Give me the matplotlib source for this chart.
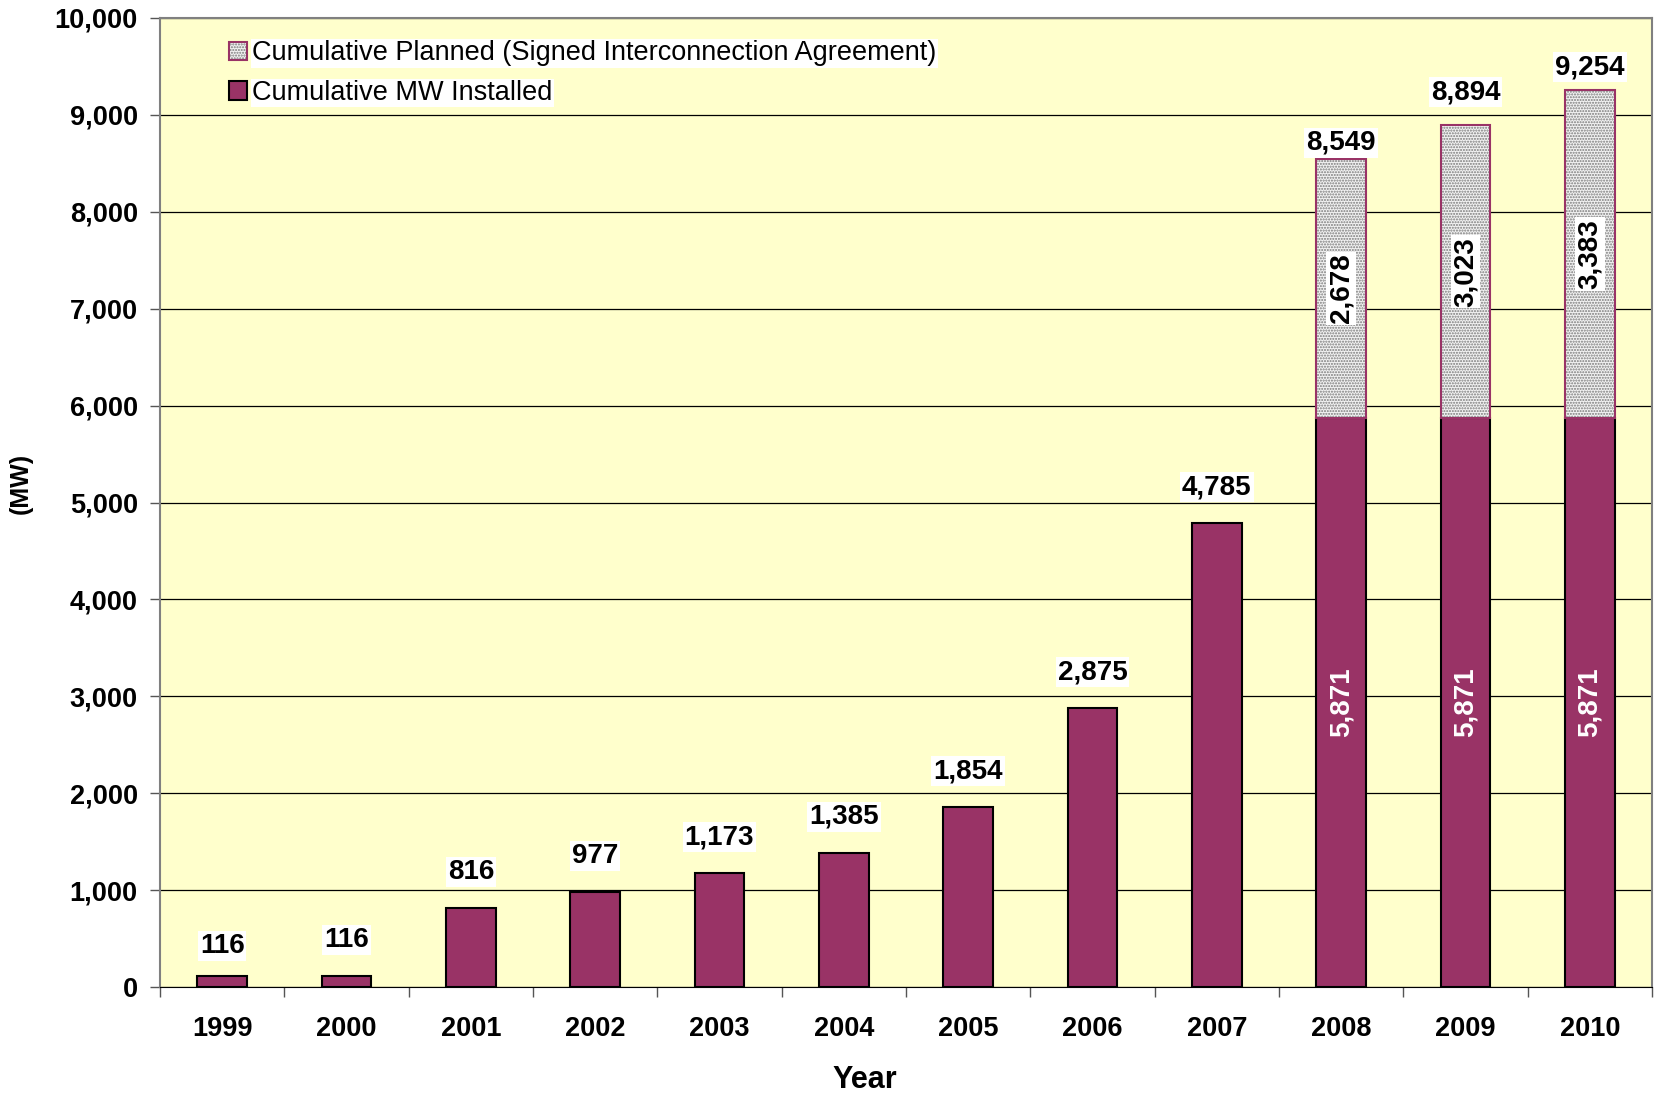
import matplotlib.pyplot as plt
import numpy as np

# values
years = ["1999", "2000", "2001", "2002", "2003", "2004",
         "2005", "2006", "2007", "2008", "2009", "2010"]
installed = [116, 116, 816, 977, 1173, 1385, 1854, 2875, 4785, 5871, 5871, 5871]
planned = [0, 0, 0, 0, 0, 0, 0, 0, 0, 2678, 3023, 3383]

plt.rcParams['font.family'] = ['Liberation Sans', 'DejaVu Sans']
plt.rcParams['hatch.linewidth'] = 1.0

maroon = "#993366"
W, H = 1656, 1094

fig = plt.figure(figsize=(W / 100, H / 100), dpi=100)
ax = fig.add_axes([160 / W, 1 - 987 / H, (1652 - 160) / W, (987 - 18) / H])
ax.set_facecolor("#FFFFCC")

x = np.arange(len(years))
inst = np.array(installed)
plan = np.array(planned)
total = inst + plan
has_plan = plan > 0

ax.bar(x, inst, width=0.4, color=maroon, edgecolor="black", linewidth=1.5, zorder=3,
       label="Cumulative MW Installed")
hb = ax.bar(x[has_plan], plan[has_plan], bottom=inst[has_plan], width=0.4,
            color="#f2f2f2", edgecolor="#7a7a7a", hatch="......", linewidth=0, zorder=3)
ob = ax.bar(x[has_plan], plan[has_plan], bottom=inst[has_plan], width=0.4,
            fill=False, edgecolor=maroon, linewidth=1.5, zorder=4)

# total labels above the bars (offsets in pixels, as placed in the original)
offsets = [30, 36, 36, 36, 36, 36, 36, 36, 36, 16, 33, 23]
for xi, t, off in zip(x, total, offsets):
    ax.annotate(f"{t:,}", (xi, t), xytext=(0, off * 0.72), textcoords="offset points",
                ha="center", va="center", fontsize=20, fontweight="bold", zorder=6,
                bbox=dict(facecolor="white", edgecolor="none", pad=1.5))

# values inside the stacked bars
for xi, a, b in zip(x[has_plan], inst[has_plan], plan[has_plan]):
    ax.text(xi, a / 2, f"{a:,}", rotation=90, ha="center", va="center",
            color="white", fontsize=20, fontweight="bold", zorder=6)
    ax.text(xi, a + b / 2, f"{b:,}", rotation=90, ha="center", va="center",
            color="black", fontsize=20, fontweight="bold", zorder=6,
            bbox=dict(facecolor="white", edgecolor="none", pad=1.5))

ax.set_ylim(0, 10000)
ax.set_xlim(-0.5, len(years) - 0.5)
ax.set_yticks(np.arange(0, 10001, 1000))
ax.set_yticklabels([f"{v:,}" for v in range(0, 10001, 1000)], fontsize=19.5, fontweight="bold")
ax.grid(axis="y", color="black", linewidth=0.9, zorder=1)
ax.set_axisbelow(True)
ax.tick_params(axis="y", length=7, width=1, pad=9, color="#555555")

ax.set_xticks(x)
ax.set_xticklabels(years, fontsize=19.5, fontweight="bold")
ax.set_xticks(np.arange(-0.5, len(years)), minor=True)
ax.tick_params(axis="x", which="major", length=0, pad=21)
ax.tick_params(axis="x", which="minor", length=7, width=1, color="#555555")

for s in ["left", "right", "top"]:
    ax.spines[s].set_color("#808080")
    ax.spines[s].set_linewidth(1.5)
ax.spines["bottom"].set_color("black")

fig.text(865 / W, 1 - 1080 / H, "Year", ha="center", va="center",
         fontsize=22, fontweight="bold")
fig.text(21 / W, 1 - 483 / H, "(MW)", rotation=90, ha="center", va="center",
         fontsize=18, fontweight="bold")

leg = ax.legend([(hb[0], ob[0]), ax.patches[0]],
                ["Cumulative Planned (Signed Interconnection Agreement)",
                 "Cumulative MW Installed"],
                loc="upper left", bbox_to_anchor=(0.03, 1.002), frameon=False,
                fontsize=19.5, handlelength=0.65, handleheight=0.65,
                handletextpad=0.2, labelspacing=0.5)
for t in leg.get_texts():
    t.set_bbox(dict(facecolor="white", edgecolor="none", pad=1))

fig.savefig("out.png", dpi=100, facecolor="white")
